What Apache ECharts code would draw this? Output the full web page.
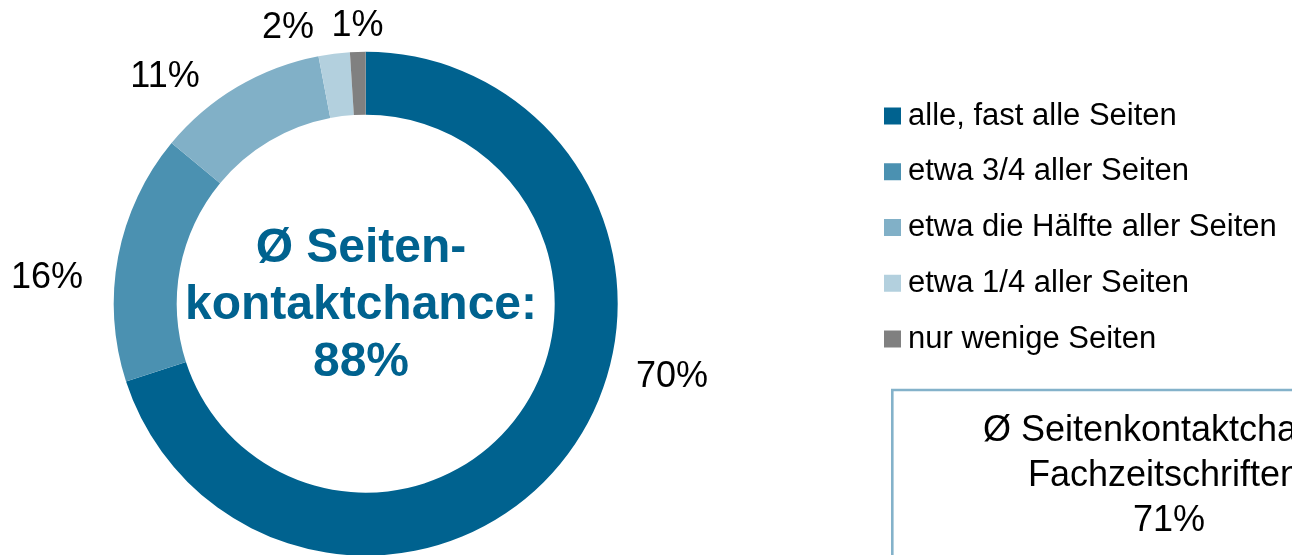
<!DOCTYPE html>
<html>
<head>
<meta charset="utf-8">
<script src="https://cdn.jsdelivr.net/npm/echarts@6/dist/echarts.min.js"></script>
<style>
  html, body { margin: 0; padding: 0; background: #fff; overflow: hidden; }
  #chart { width: 1292px; height: 555px; }
</style>
</head>
<body>
<div id="chart"></div>
<script>
// Seitenkontaktchance: share of readers by how many pages they see
const categories = [
  'alle, fast alle Seiten',
  'etwa 3/4 aller Seiten',
  'etwa die Hälfte aller Seiten',
  'etwa 1/4 aller Seiten',
  'nur wenige Seiten'
];
const shares = [70, 16, 11, 2, 1];
const centerLines = ['Ø Seiten-', 'kontaktchance:', '88%'];
const boxLines = ['Ø Seitenkontaktchance', 'Fachzeitschriften:', '71%'];

// styling / layout
const sliceColors = ['#00628F', '#4B91B1', '#81B0C7', '#B3D0DE', '#808080'];
const FONT = "'Liberation Sans', Arial, Helvetica, sans-serif";
const CX = 365.7, CY = 303.7;
const R_IN = 189, R_OUT = 252;
// value labels sit around the ring: offset from the ring centre
const labelOffsets = [[306.3, 73], [-318.7, -26], [-200.7, -227], [-77.7, -276], [-8.2, -277.5]];

const chart = echarts.init(document.getElementById('chart'), null, { renderer: 'canvas' });

chart.setOption({
  animation: false,
  backgroundColor: '#fff',
  color: sliceColors,
  legend: {
    orient: 'vertical',
    left: 879,
    top: 95.5,
    icon: 'rect',
    itemWidth: 17,
    itemHeight: 17,
    itemGap: 24.75,
    selectedMode: false,
    data: categories,
    textStyle: {
      fontFamily: FONT,
      fontSize: 31,
      lineHeight: 31,
      color: '#000',
      padding: [0, 0, 0, 2]
    }
  },
  graphic: [
    {
      type: 'text',
      x: 361,
      y: 305.5,
      silent: true,
      style: {
        text: centerLines.join('\n'),
        fontFamily: FONT,
        fontWeight: 'bold',
        fontSize: 48,
        lineHeight: 57,
        fill: '#00628F',
        align: 'center',
        verticalAlign: 'middle'
      }
    },
    {
      type: 'rect',
      silent: true,
      shape: { x: 892.3, y: 390, width: 600, height: 300 },
      style: { fill: '#fff', stroke: '#84B2CA', lineWidth: 2.6 }
    },
    {
      type: 'text',
      x: 1169,
      y: 476.5,
      silent: true,
      style: {
        text: boxLines.join('\n'),
        fontFamily: FONT,
        fontSize: 36,
        lineHeight: 45,
        fill: '#000',
        align: 'center',
        verticalAlign: 'middle'
      }
    }
  ],
  series: [
    {
      type: 'pie',
      center: [CX, CY],
      radius: [R_IN, R_OUT],
      startAngle: 90,
      clockwise: true,
      avoidLabelOverlap: false,
      silent: true,
      emphasis: { disabled: true },
      itemStyle: { borderWidth: 0 },
      label: {
        show: true,
        position: 'outside',
        formatter: (p) => p.value + '%',
        fontFamily: FONT,
        fontSize: 36,
        color: '#000'
      },
      labelLine: { show: false },
      labelLayout: (p) => {
        const o = labelOffsets[p.dataIndex];
        return { x: CX + o[0], y: CY + o[1], align: 'center', verticalAlign: 'middle' };
      },
      data: categories.map((name, i) => ({ name, value: shares[i] }))
    }
  ]
});
</script>
</body>
</html>
